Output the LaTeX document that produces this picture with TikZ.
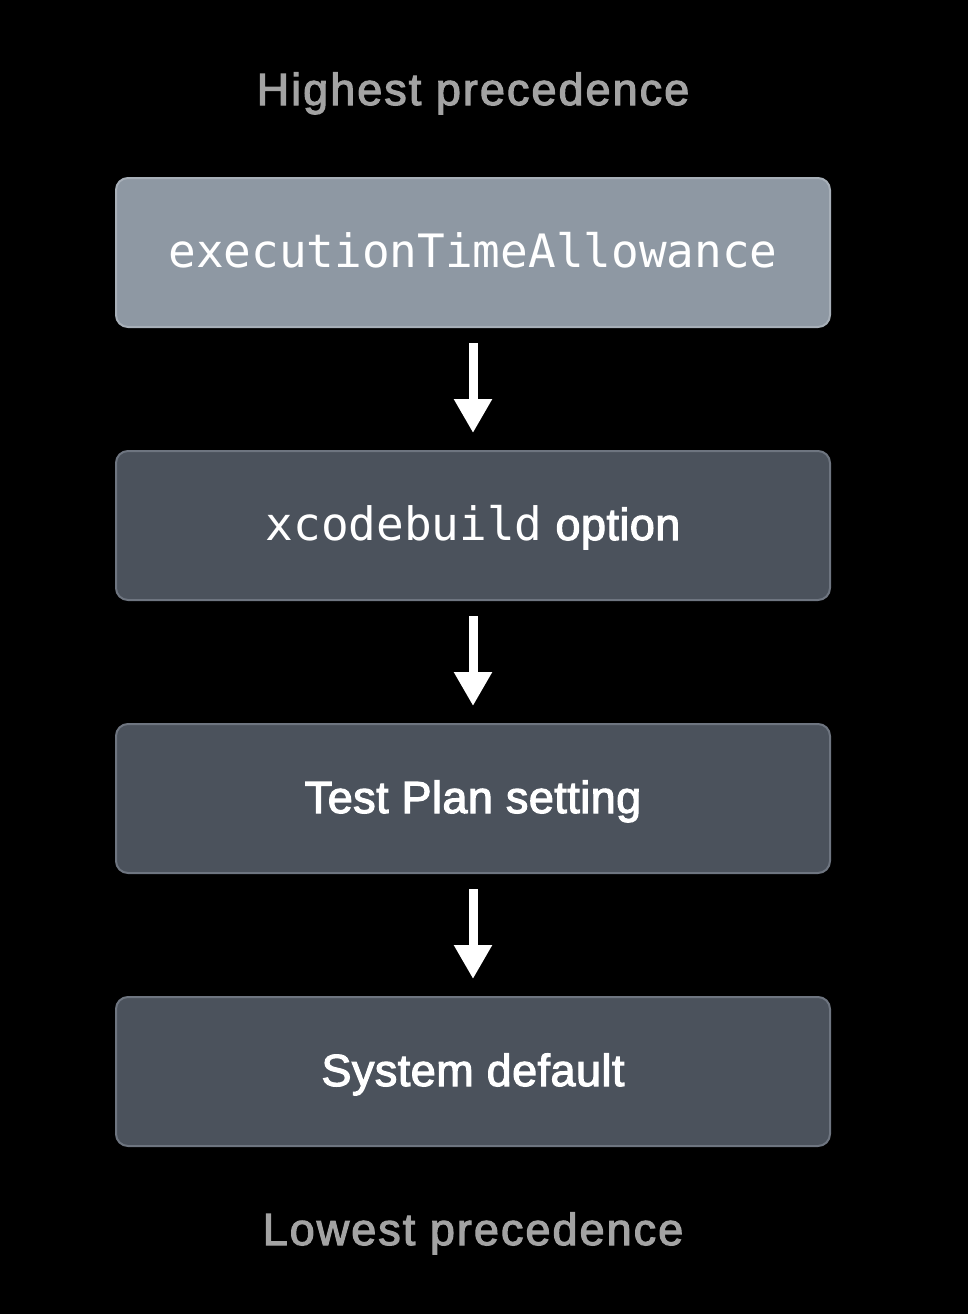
\documentclass[tikz,border=0pt]{standalone}
\usepackage{fontspec}
\setmainfont{Liberation Sans}
\newfontfamily\codefont{DejaVu Sans Mono}
\newfontfamily\labelfont[FakeBold=2.5, LetterSpace=1]{Liberation Sans}
\newfontfamily\capfont[FakeBold=2.5, LetterSpace=4.5]{Liberation Sans}
\usetikzlibrary{arrows.meta}
\usetikzlibrary{positioning}

\definecolor{topfill}{HTML}{8E98A3}
\definecolor{topedge}{HTML}{A7AFB8}
\definecolor{boxfill}{HTML}{4B525C}
\definecolor{boxedge}{HTML}{6E7580}
\definecolor{capgray}{HTML}{A3A3A3}

\tikzset{
  levelbox/.style={draw=boxedge, fill=boxfill, line width=2pt, rounded corners=12pt,
    minimum width=714pt, minimum height=149pt, text=white, inner sep=0pt,
    text height=38pt, text depth=9pt},
  topbox/.style={levelbox, draw=topedge, fill=topfill},
  flowarrow/.style={white, line width=9pt, -{Triangle[width=36pt,length=34pt]}},
  caption/.style={text=capgray, anchor=base, font=\fontsize{45}{52}\capfont}
}

\begin{document}
\begin{tikzpicture}[x=1pt, y=-1pt]
            \fill[black] (0,0) rectangle (968,1314);
            \useasboundingbox (0,0) rectangle (968,1314);
            \node[caption] (high) at (473, 105) {Highest precedence};
            \node[topbox] (allow) at (473, 252.5) {\fontsize{46}{55}\codefont executionTimeAllowance};
            \node[levelbox, below=122pt of allow] (xcb) {\fontsize{46}{55}\codefont xcodebuild\fontsize{45}{52}\labelfont\ option};
            \node[levelbox, below=122pt of xcb] (plan) {\fontsize{45}{52}\labelfont Test Plan setting};
            \node[levelbox, below=122pt of plan] (sys) {\fontsize{45}{52}\labelfont System default};
            \node[caption] (low) at (473, 1245) {Lowest precedence};
            \draw[flowarrow] ([yshift=-15pt]allow.south) -- ([yshift=17pt]xcb.north);
            \draw[flowarrow] ([yshift=-15pt]xcb.south) -- ([yshift=17pt]plan.north);
            \draw[flowarrow] ([yshift=-15pt]plan.south) -- ([yshift=17pt]sys.north);
        \end{tikzpicture}
\end{document}
